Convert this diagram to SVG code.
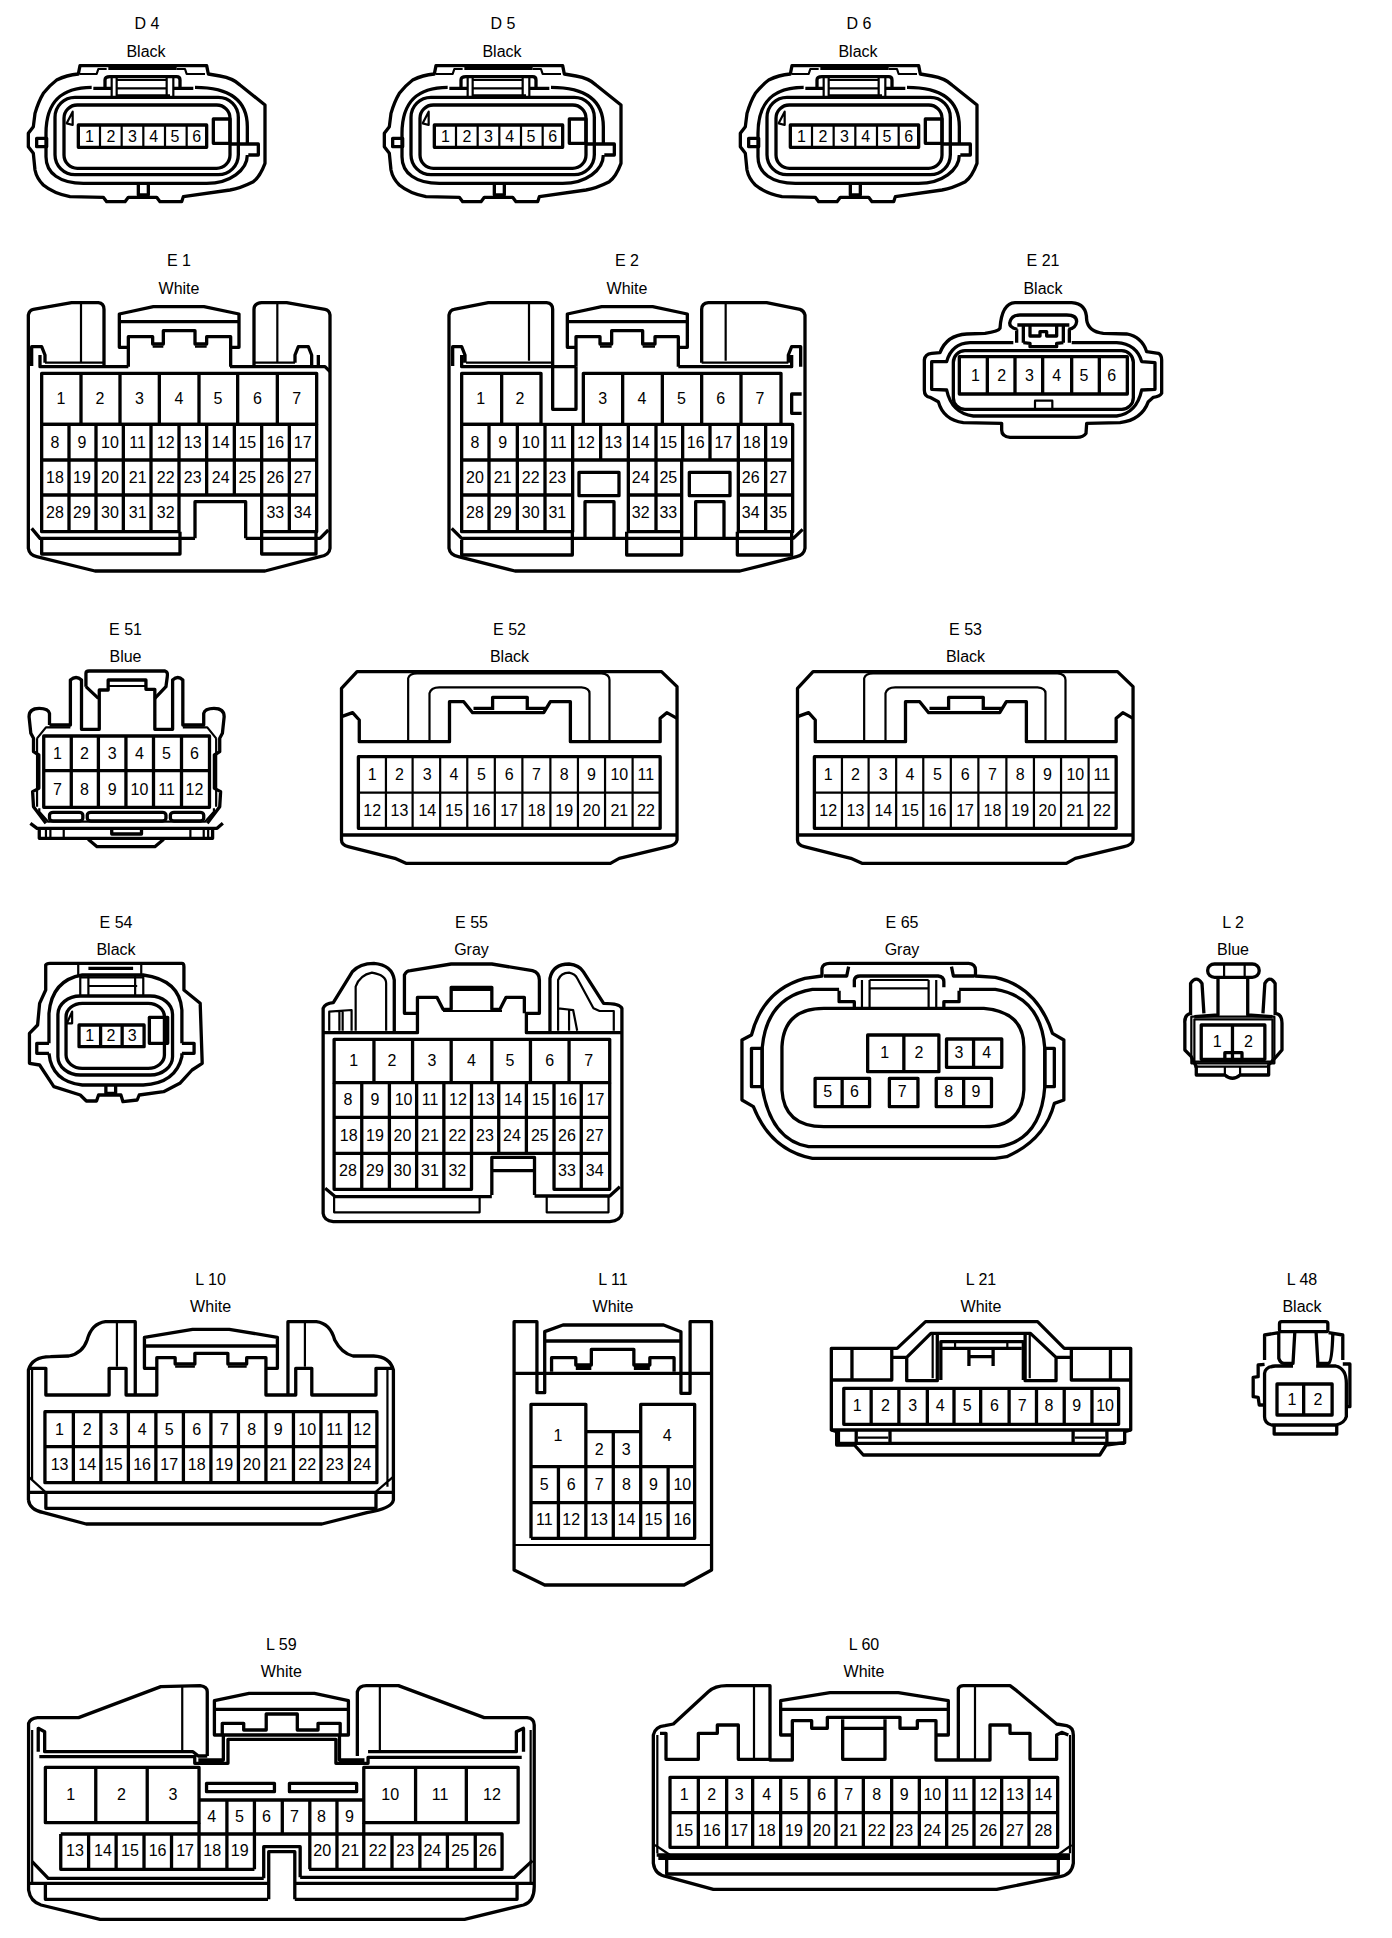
<svg xmlns="http://www.w3.org/2000/svg" width="1392" height="1938" viewBox="0 0 1392 1938">
<style>
text{font-family:"Liberation Sans",Arial,sans-serif;fill:#000;text-anchor:middle;font-size:16px}
.z3 text{font-size:48px}
path,rect{fill:none;stroke:#000;stroke-width:3.3;vector-effect:non-scaling-stroke;stroke-linejoin:round}
.i{stroke-width:2.2}
rect.bg{fill:#fff;stroke:none}
</style>
<defs>
<g id="dBody">
<path d="M235,222L240,197H620L625,222L660,228Q700,235 720,255L795,315V490Q780,530 760,545Q720,565 690,570L550,590L545,605H480L470,592H385L375,605H320L310,592L210,590Q160,580 130,555Q110,535 105,510L100,460L85,440V400L100,380L105,340Q115,305 130,280Q150,255 170,240Q200,225 235,222Z"/>
<path class="i" d="M240,222H290L295,207H320M530,207H555L560,222H615"/>
<path d="M325,205H530"/>
<path d="M275,262C190,262 138,300 138,400V470C138,520 180,550 250,550H620C690,550 742,510 742,465M742,432V380C742,300 690,262 585,262"/>
<path d="M110,415H140V440H110ZM690,432H775V465H745"/>
<rect x="165" y="292" width="550" height="232" rx="60"/>
<rect x="192" y="315" width="498" height="190" rx="40"/>
<path class="i" d="M218,335L200,370L218,375Z"/>
<path d="M315,262V240Q315,230 330,230H530Q540,230 540,240V262M280,265H335M520,265H580M350,288H510"/>
<path class="i" d="M335,232V290M350,232V290M500,232V290M520,232V290M350,240H500M350,265H500"/>
<path d="M640,357H690V430H640Z"/>
<path d="M415,550V585H445V550"/>
<rect x="235" y="375" width="385" height="67"/>
<path class="i" d="M300,375V442M365,375V442M430,375V442M495,375V442M560,375V442"/>
</g>
<g id="e52Body">
<path d="M765,235L800,185H1485L1520,230V690Q1518,705 1500,710L1390,745L1370,760H910L885,745L780,710Q765,705 765,690Z"/>
<path d="M765,320L790,308L805,330V395H1008V275H1040L1060,308H1220L1235,275H1280V395H1482V325L1497,308L1520,325"/>
<path d="M1105,300V262H1183V300M1062,295H1105M1183,295H1225"/>
<path class="i" d="M915,392V205Q918,190 935,190H1350Q1368,192 1368,210V392M963,392V250Q966,232 985,232H1305Q1323,234 1323,250V392"/>
<path d="M765,675H1520"/>
<rect x="803" y="440" width="679" height="215"/>
<path class="i" d="M803,548H1482M865,440V655M925,440V655M987,440V655M1048,440V655M1110,440V655M1172,440V655M1235,440V655M1297,440V655M1358,440V655M1420,440V655"/>
</g>
</defs>
<rect class="bg" width="1392" height="1938"/>
<g id="connectors"/>

<g id="D4">
<text x="147" y="29">D 4</text><text x="146" y="57">Black</text>
<g class="z3" transform="scale(0.33333)"><use href="#dBody"/>
<text x="268" y="425">1</text><text x="333" y="425">2</text><text x="397" y="425">3</text><text x="461" y="425">4</text><text x="525" y="425">5</text><text x="590" y="425">6</text></g>
</g>
<g id="D5">
<text x="503" y="29">D 5</text><text x="502" y="57">Black</text>
<g class="z3" transform="translate(356,0) scale(0.33333)"><use href="#dBody"/>
<text x="268" y="425">1</text><text x="333" y="425">2</text><text x="397" y="425">3</text><text x="461" y="425">4</text><text x="525" y="425">5</text><text x="590" y="425">6</text></g>
</g>
<g id="D6">
<text x="859" y="29">D 6</text><text x="858" y="57">Black</text>
<g class="z3" transform="translate(712,0) scale(0.33333)"><use href="#dBody"/>
<text x="268" y="425">1</text><text x="333" y="425">2</text><text x="397" y="425">3</text><text x="461" y="425">4</text><text x="525" y="425">5</text><text x="590" y="425">6</text></g>
</g>

<g id="E1">
<text x="179" y="266">E 1</text><text x="179" y="294">White</text>
<g class="z3" transform="translate(0,240) scale(0.33333)">
<path d="M85,895V225Q88,210 100,208L215,188H295Q312,190 312,208V375M85,895V925Q88,945 110,950L285,993H795L960,950Q988,945 990,925V225Q988,210 975,208L860,188H785Q762,190 762,208V375"/>
<path class="i" d="M243,190V365M832,190V365M135,368H312M762,368H885"/>
<path d="M95,378V320H125L135,345V368M120,345V380H385M690,380H955V345M885,368V345L895,320H925L935,345V380H975L990,395"/>
<path d="M385,322H358V222L460,200H612L717,222V322H692M358,245H717M385,380V290H458V312H490V272H585V312H620V290H692V380"/>
<path class="i" d="M458,320H490M585,320H620"/>
<rect x="125" y="400" width="825" height="153"/>
<path d="M125,553V875H537V765M785,765V875H950V553M125,553H950M125,660H950M125,765H950"/>
<path d="M243,400V553M360,400V553M478,400V553M597,400V553M713,400V553M832,400V553"/>
<path d="M207,553V875M288,553V875M370,553V875M453,553V875M537,553V765M620,553V765M703,553V765M785,553V765M868,553V875"/>
<path d="M585,895V785H737V895M95,865L120,895H585M737,895H960L985,870M125,900V942H540V875M785,875V942H948V875"/>
<text x="183" y="493">1</text><text x="300" y="493">2</text><text x="418" y="493">3</text><text x="537" y="493">4</text><text x="654" y="493">5</text><text x="772" y="493">6</text><text x="890" y="493">7</text>
<text x="165" y="624">8</text><text x="246" y="624">9</text><text x="330" y="624">10</text><text x="413" y="624">11</text><text x="497" y="624">12</text><text x="578" y="624">13</text><text x="662" y="624">14</text><text x="742" y="624">15</text><text x="826" y="624">16</text><text x="908" y="624">17</text>
<text x="165" y="729">18</text><text x="246" y="729">19</text><text x="330" y="729">20</text><text x="413" y="729">21</text><text x="497" y="729">22</text><text x="578" y="729">23</text><text x="662" y="729">24</text><text x="742" y="729">25</text><text x="826" y="729">26</text><text x="908" y="729">27</text>
<text x="165" y="835">28</text><text x="246" y="835">29</text><text x="330" y="835">30</text><text x="413" y="835">31</text><text x="497" y="835">32</text><text x="826" y="835">33</text><text x="908" y="835">34</text>
</g></g>

<g id="E2">
<text x="627" y="266">E 2</text><text x="627" y="294">White</text>
<g class="z3" transform="translate(430,240) scale(0.33333)">
<path d="M57,895V225Q60,210 72,208L175,188H350Q368,190 368,208V508H438V380M57,895V925Q60,945 85,950L255,993H930L1100,950Q1122,945 1125,925V225Q1122,212 1110,208L1010,188H835Q815,190 815,208V368"/>
<path class="i" d="M297,190V362M887,190V362M108,368H368M815,368H1075"/>
<path d="M68,378V320H95L105,345V368M95,345V380H438M745,380H1085V345M1075,368V345L1085,320H1112V380M1115,462H1085V520H1115"/>
<path d="M438,322H412V222L515,200H668L772,222V322H745M412,245H772M438,380V290H510V312H545V272H638V312H675V290H745V380"/>
<path class="i" d="M510,320H545M638,320H675"/>
<rect x="95" y="400" width="238" height="153"/>
<path d="M460,553V400H1053V553M215,400V553M578,400V553M697,400V553M815,400V553M933,400V553"/>
<path d="M95,553H1088V875H925V660M95,553V875H428V553M595,660V875H755V660M95,660H1088M95,765H428M595,765H755M925,765H1088"/>
<path d="M177,553V875M262,553V875M345,553V875M512,553V660M595,553V660M678,553V875M758,553V660M840,553V660M925,553V660M1007,553V875"/>
<rect x="447" y="697" width="120" height="70"/><rect x="778" y="697" width="122" height="70"/>
<path d="M465,895V785H552V895M797,895V785H882V895M65,865L95,895H1090L1118,868M95,900V945H427V875M590,875V945H755V875M922,875V945H1085V875"/>
<text x="152" y="493">1</text><text x="270" y="493">2</text><text x="518" y="493">3</text><text x="636" y="493">4</text><text x="754" y="493">5</text><text x="872" y="493">6</text><text x="990" y="493">7</text>
<text x="135" y="624">8</text><text x="218" y="624">9</text><text x="302" y="624">10</text><text x="385" y="624">11</text><text x="468" y="624">12</text><text x="550" y="624">13</text><text x="632" y="624">14</text><text x="715" y="624">15</text><text x="797" y="624">16</text><text x="880" y="624">17</text><text x="965" y="624">18</text><text x="1047" y="624">19</text>
<text x="135" y="729">20</text><text x="218" y="729">21</text><text x="302" y="729">22</text><text x="382" y="729">23</text><text x="632" y="729">24</text><text x="715" y="729">25</text><text x="962" y="729">26</text><text x="1045" y="729">27</text>
<text x="135" y="835">28</text><text x="218" y="835">29</text><text x="302" y="835">30</text><text x="382" y="835">31</text><text x="632" y="835">32</text><text x="715" y="835">33</text><text x="962" y="835">34</text><text x="1045" y="835">35</text>
</g></g>

<g id="E21">
<text x="1043" y="266">E 21</text><text x="1043" y="294">Black</text>
<g class="z3" transform="translate(890,240) scale(0.33333)">
<path d="M330,265Q335,190 375,188H545Q590,190 590,240Q595,275 640,280L710,282Q755,290 770,335L805,340Q815,345 815,360V460Q810,470 790,472L775,485Q755,540 690,548L590,550L588,580Q580,592 560,592H360Q335,590 335,570V550L220,548Q160,540 145,485L120,472Q103,470 103,450V360Q105,342 125,340L150,338Q170,285 230,282L285,280Q325,275 330,265Z"/>
<path d="M370,308H240Q185,310 170,365H125V448L170,450Q185,520 250,528H680Q740,520 755,450L795,448V368L755,365Q740,312 680,308H545"/>
<rect x="190" y="332" width="540" height="176" rx="35"/>
<rect x="208" y="350" width="504" height="112"/>
<path d="M292,350V462M375,350V462M458,350V462M545,350V462M628,350V462"/>
<path class="i" d="M435,505V482H487V505"/>
<path d="M382,268Q355,262 360,245Q365,225 390,225H530Q560,225 560,245Q558,265 535,268M380,268V308M400,258V308M520,258V308M538,268V308M400,308L420,310V320H500V310L520,308M420,258V288H450V275H470V288H500V258M382,255H538"/>
<text x="256" y="422">1</text><text x="335" y="422">2</text><text x="418" y="422">3</text><text x="500" y="422">4</text><text x="582" y="422">5</text><text x="665" y="422">6</text>
</g></g>

<g id="E51" transform="translate(1.5,0)">
<text x="124" y="635">E 51</text><text x="124" y="662">Blue</text>
<g transform="translate(0,610) scale(0.44444,0.33333)">
<path d="M190,230V190Q190,183 197,183H368Q375,186 373,200L370,230L345,265M190,230L218,265"/>
<path d="M108,345V310Q105,295 85,295Q62,295 62,320L66,370L72,385V425L84,435V535L70,545L72,590L100,640M108,345H155V210Q168,195 180,210V358H220V240H240V210H325V238H345V358H385V210Q397,195 408,210V345H455V310Q458,295 478,295Q501,295 501,320L497,370L491,385V425L479,435V535L493,545L491,590L463,640"/>
<path class="i" d="M240,228H325M80,385L100,352H155M408,352H463L483,385M80,385V590M483,385V590M85,595V605L105,635H458L478,605V595"/>
<rect x="95" y="378" width="373" height="214"/>
<path d="M157,378V592M218,378V592M280,378V592M342,378V592M405,378V592M95,482H468"/>
<rect x="108" y="607" width="75" height="26" rx="8"/><rect x="193" y="607" width="177" height="26" rx="8"/><rect x="380" y="607" width="75" height="26" rx="8"/>
<path d="M65,640L80,655H485L498,640M85,655V685H475V655M248,660V672H315V660M195,688L215,710H345L365,688"/>
<path class="i" d="M100,655V685M110,655V685M140,655V685M425,655V685M455,655V685M465,655V685"/>
</g>
<text x="56" y="759">1</text><text x="83" y="759">2</text><text x="110.7" y="759">3</text><text x="138" y="759">4</text><text x="165" y="759">5</text><text x="193" y="759">6</text>
<text x="56" y="795">7</text><text x="83" y="795">8</text><text x="110.7" y="795">9</text><text x="138" y="795">10</text><text x="165" y="795">11</text><text x="193" y="795">12</text>
</g>

<g id="E52" transform="translate(1.5,0)">
<text x="508" y="635">E 52</text><text x="508" y="662">Black</text>
<g transform="translate(0,610) scale(0.44444,0.33333)"><use href="#e52Body"/></g>
<text x="370.7" y="780">1</text><text x="398" y="780">2</text><text x="425.8" y="780">3</text><text x="452.4" y="780">4</text><text x="480" y="780">5</text><text x="507.6" y="780">6</text><text x="535" y="780">7</text><text x="562.7" y="780">8</text><text x="590" y="780">9</text><text x="617.8" y="780">10</text><text x="644.4" y="780">11</text>
<text x="370.7" y="816">12</text><text x="398" y="816">13</text><text x="425.8" y="816">14</text><text x="452.4" y="816">15</text><text x="480" y="816">16</text><text x="507.6" y="816">17</text><text x="535" y="816">18</text><text x="562.7" y="816">19</text><text x="590" y="816">20</text><text x="617.8" y="816">21</text><text x="644.4" y="816">22</text>
</g>

<g id="E53" transform="translate(1.5,0)">
<text x="964" y="635">E 53</text><text x="964" y="662">Black</text>
<g transform="translate(456,610) scale(0.44444,0.33333)"><use href="#e52Body"/></g>
<text x="826.7" y="780">1</text><text x="854" y="780">2</text><text x="881.8" y="780">3</text><text x="908.4" y="780">4</text><text x="936" y="780">5</text><text x="963.6" y="780">6</text><text x="991" y="780">7</text><text x="1018.7" y="780">8</text><text x="1046" y="780">9</text><text x="1073.8" y="780">10</text><text x="1100.4" y="780">11</text>
<text x="826.7" y="816">12</text><text x="854" y="816">13</text><text x="881.8" y="816">14</text><text x="908.4" y="816">15</text><text x="936" y="816">16</text><text x="963.6" y="816">17</text><text x="991" y="816">18</text><text x="1018.7" y="816">19</text><text x="1046" y="816">20</text><text x="1073.8" y="816">21</text><text x="1100.4" y="816">22</text>
</g>

<g id="E54" transform="translate(1,0)">
<text x="115" y="928">E 54</text><text x="115" y="955">Black</text>
<g transform="translate(0,900) scale(0.40650,0.33333)">
<path d="M110,270V195Q112,190 120,190H445Q450,190 450,200V270L490,310L495,490L470,510L440,550L400,575L340,585L335,600L300,605L295,585H240L235,603H210L195,585L130,560L95,495L70,490V400L90,375L95,310Z"/>
<path d="M118,430V340Q125,240 200,225H350Q440,240 445,330V430M445,460V470Q430,550 350,555H200Q125,545 118,460M118,430H88V460H118M445,430H475V460H445"/>
<path class="i" d="M190,195V225M345,195V225"/><path d="M215,205H325"/>
<rect x="140" y="288" width="282" height="237" rx="55"/><rect x="160" y="310" width="242" height="195" rx="40"/>
<path class="i" d="M195,228V290M215,228V290M330,228V290M350,228V290M195,232H350M215,258H335M175,335L162,370H175Z"/>
<rect x="192" y="375" width="160" height="65"/>
<path d="M245,375V440M298,375V440M365,352H410V430H365ZM258,555V580H282V555"/>
</g>
<text x="88.6" y="1041">1</text><text x="110" y="1041">2</text><text x="131.3" y="1041">3</text>
</g>

<g id="E55" transform="translate(2,0)">
<text x="469.5" y="928">E 55</text><text x="469.5" y="955">Gray</text>
<g transform="translate(0,900) scale(0.40650,0.33333)">
<path d="M790,398V325Q795,310 815,308L862,215Q880,190 915,190Q960,195 965,240V398M1348,398V235Q1355,192 1395,192Q1420,195 1430,215L1480,310Q1520,310 1525,325V940Q1522,962 1495,965H815Q792,962 790,940V398"/>
<path class="i" d="M870,392V260Q880,225 910,218Q945,225 945,250V392M1368,392V240Q1375,218 1395,218Q1410,222 1415,235L1455,325L1470,333H1505V392M805,392V335L860,330V392M830,335V392M838,335V392M1368,325L1405,330L1415,392M1395,330V392"/>
<path d="M790,398H1022V340H990V225Q995,212 1005,212L1105,192H1205L1305,212Q1322,218 1322,240V340H1290V398H1525M1022,340V292H1070L1085,328H1105V262H1205V328H1225L1240,292H1285V340"/>
<path class="i" d="M1085,333H1230M1105,270H1205"/>
<rect x="817" y="418" width="678" height="130"/>
<path d="M915,418V548M1010,418V548M1105,418V548M1205,418V548M1300,418V548M1395,418V548"/>
<path d="M817,548V868H1155V760M1358,760V868H1495V548M817,652H1495M817,760H1495"/>
<path d="M885,548V868M953,548V868M1020,548V868M1087,548V868M1155,548V760M1222,548V760M1290,548V760M1358,548V760M1425,548V868"/>
<path d="M1205,885V772H1310V885M1205,812H1310M795,865L820,890H1205M1310,888H1495L1520,860"/>
<path class="i" d="M817,890V937H1175V890M1340,890V937H1492V890"/>
</g>
<text x="351.6" y="1066.4">1</text><text x="390" y="1066.4">2</text><text x="430" y="1066.4">3</text><text x="469.5" y="1066.4">4</text><text x="508" y="1066.4">5</text><text x="547.6" y="1066.4">6</text><text x="586.6" y="1066.4">7</text>
<text x="346" y="1105">8</text><text x="373" y="1105">9</text><text x="401.6" y="1105">10</text><text x="428" y="1105">11</text><text x="456" y="1105">12</text><text x="483.7" y="1105">13</text><text x="511" y="1105">14</text><text x="538.6" y="1105">15</text><text x="565.9" y="1105">16</text><text x="593.5" y="1105">17</text>
<text x="346.7" y="1140.7">18</text><text x="373" y="1140.7">19</text><text x="400.4" y="1140.7">20</text><text x="428" y="1140.7">21</text><text x="455.3" y="1140.7">22</text><text x="483" y="1140.7">23</text><text x="510" y="1140.7">24</text><text x="537.8" y="1140.7">25</text><text x="565" y="1140.7">26</text><text x="592.7" y="1140.7">27</text>
<text x="346" y="1176.4">28</text><text x="373" y="1176.4">29</text><text x="400.4" y="1176.4">30</text><text x="428" y="1176.4">31</text><text x="455.3" y="1176.4">32</text><text x="565" y="1176.4">33</text><text x="592.7" y="1176.4">34</text>
</g>

<g id="E65">
<text x="902" y="928">E 65</text><text x="902" y="955">Gray</text>
<g transform="translate(721,900) scale(0.38095,0.33333)">
<path d="M265,228V205Q268,190 285,190H650Q668,192 668,210V228L720,232Q830,260 870,400L900,420V600L875,610Q850,720 750,770L720,775H240Q130,750 85,620L55,600V420L80,405Q110,270 220,235Z"/>
<path d="M80,445H108V560H80ZM875,445H850V560H875Z"/>
<path d="M310,268H240Q120,290 108,445V560Q130,720 230,740H730Q840,720 850,560V445Q840,290 720,268H625"/>
<path d="M335,200L330,228H270M605,200L610,228H665M350,262V240Q352,228 365,228H570Q585,230 585,245V262M310,272V305H350V322M625,272V305H585V322"/>
<path class="i" d="M370,240V322M390,240V322M545,240V322M565,240V322M390,240H545M390,265H545"/>
<path d="M160,440Q165,325 270,325H690Q795,335 795,440V570Q790,680 690,680H270Q165,680 160,570Z"/>
<rect x="385" y="405" width="187" height="110"/><rect x="592" y="417" width="145" height="85"/><rect x="247" y="535" width="143" height="85"/><rect x="442" y="535" width="75" height="85"/><rect x="565" y="535" width="145" height="85"/>
<path d="M480,405V515M663,417V502M318,535V620M637,535V620"/>
</g>
<text x="884.6" y="1058.4">1</text><text x="918.9" y="1058.4">2</text><text x="958.9" y="1058.4">3</text><text x="986.7" y="1058.4">4</text>
<text x="827.8" y="1097.4">5</text><text x="854.5" y="1097.4">6</text><text x="902.1" y="1097.4">7</text><text x="948.6" y="1097.4">8</text><text x="976" y="1097.4">9</text>
</g>

<g id="L2" transform="translate(2,0)">
<text x="1231" y="928">L 2</text><text x="1231" y="955">Blue</text>
<g transform="translate(720,900) scale(0.38095,0.33333)">
<rect x="1275" y="192" width="135" height="40" rx="18"/>
<path class="i" d="M1318,195V230M1372,195V230M1240,500H1435"/>
<path d="M1302,232V345L1240,350M1380,232V345L1445,350M1230,345V250Q1245,225 1260,250L1265,340M1420,340L1425,250Q1438,225 1452,250V345"/>
<path d="M1230,340Q1213,345 1215,370V450L1232,470L1245,500V525H1320Q1340,545 1360,525H1435V495L1455,470L1470,450V370Q1470,340 1450,340"/>
<rect class="i" x="1232" y="350" width="218" height="140"/><rect class="i" x="1240" y="358" width="205" height="127"/>
<rect x="1258" y="375" width="167" height="103"/>
<path d="M1340,375V478"/>
<rect x="1320" y="458" width="45" height="24"/>
<path class="i" d="M1320,500V525M1360,500V525"/>
</g>
<text x="1215.2" y="1047.4">1</text><text x="1246.5" y="1047.4">2</text>
</g>

<g id="L10" transform="scale(1.003,1)">
<text x="210" y="1285">L 10</text><text x="210" y="1312">White</text>
<g transform="translate(0,1260) scale(0.45714,0.33333)">
<path d="M62,720V330Q70,290 110,290L150,288Q180,280 190,240Q200,190 230,185H295V405M62,720Q65,750 95,758L188,792H702L800,758Q855,745 858,720V330Q850,290 815,288H770Q745,280 730,240Q720,190 690,185H628V405"/>
<path class="i" d="M255,188V320M665,188V320M70,330V660M845,330V680M62,650L98,695M858,650L820,695"/>
<path d="M62,325H100V405H238V325H275V405H342V293H382V312H425V280H497V312H538V293H580V405H645V325H680V405H820V325H858"/>
<path d="M342,325H315V232L420,208H500L605,232V325H580M318,258H603"/>
<path class="i" d="M382,320H425M497,320H538"/>
<rect x="98" y="455" width="724" height="213"/>
<path d="M98,560H822M160,455V668M220,455V668M280,455V668M340,455V668M400,455V668M460,455V668M520,455V668M580,455V668M640,455V668M700,455V668M762,455V668"/>
<path d="M62,697H858M100,700V745H820V700"/>
</g>
<text x="59.4" y="1434.7">1</text><text x="86.9" y="1434.7">2</text><text x="113.4" y="1434.7">3</text><text x="141.7" y="1434.7">4</text><text x="168.7" y="1434.7">5</text><text x="196.1" y="1434.7">6</text><text x="223.5" y="1434.7">7</text><text x="251" y="1434.7">8</text><text x="277.5" y="1434.7">9</text><text x="306.3" y="1434.7">10</text><text x="333.7" y="1434.7">11</text><text x="361.1" y="1434.7">12</text>
<text x="59.4" y="1469.7">13</text><text x="86.9" y="1469.7">14</text><text x="113.4" y="1469.7">15</text><text x="141.7" y="1469.7">16</text><text x="168.7" y="1469.7">17</text><text x="196.1" y="1469.7">18</text><text x="223.5" y="1469.7">19</text><text x="251" y="1469.7">20</text><text x="277.5" y="1469.7">21</text><text x="306.3" y="1469.7">22</text><text x="333.7" y="1469.7">23</text><text x="361.1" y="1469.7">24</text>
</g>

<g id="L11" transform="translate(3,0)">
<text x="610" y="1285">L 11</text><text x="610" y="1312">White</text>
<g transform="translate(0,1260) scale(0.45714,0.33333)">
<path d="M1118,185V930L1185,975H1490L1550,930V185H1503V400H1483V215L1445,195H1225L1185,215V398H1168V185H1118ZM1118,340H1550"/>
<path d="M1187,243H1483M1200,335V293H1253V315H1287V268H1380V315H1415V293H1468V335M1253,325H1287M1380,325H1415"/>
<path d="M1155,835V433H1275V620M1275,515H1395M1395,620V433H1513V835H1155M1155,620H1513M1155,728H1513"/>
<path d="M1335,515V835M1215,620V835M1275,620V835M1395,620V835M1455,620V835"/>
<path class="i" d="M1118,855H1550"/>
</g>
<text x="555" y="1440.7">1</text><text x="664.2" y="1440.7">4</text><text x="596.1" y="1454.7">2</text><text x="623.1" y="1454.7">3</text>
<text x="541.3" y="1489.7">5</text><text x="568.2" y="1489.7">6</text><text x="596.1" y="1489.7">7</text><text x="623.5" y="1489.7">8</text><text x="650.5" y="1489.7">9</text><text x="679.3" y="1489.7">10</text>
<text x="541.3" y="1525">11</text><text x="568.2" y="1525">12</text><text x="596.1" y="1525">13</text><text x="623.5" y="1525">14</text><text x="650.5" y="1525">15</text><text x="679.3" y="1525">16</text>
</g>

<g id="L21">
<text x="981" y="1285">L 21</text><text x="981" y="1312">White</text>
<g transform="translate(810,1260) scale(0.35556,0.33333)">
<path d="M60,265H245L325,185H640L715,265H902V510L885,515V548L833,555L815,585H150L125,555H75V515L60,510Z"/>
<path d="M118,265V360M845,268V360M60,360H230V270M735,270V360H902"/>
<path d="M232,292H272L340,220H620L692,292H735M272,292V362H358V222M692,292V362H605V222"/>
<path class="i" d="M345,222V355M618,222V355"/>
<path d="M368,360V245H600V360M370,265H595"/>
<path class="i" d="M408,245V265M555,245V265"/>
<path d="M447,270V318M515,270V318M447,290H515"/>
<rect x="95" y="385" width="773" height="108"/>
<path d="M172,385V493M250,385V493M330,385V493M405,385V493M480,385V493M560,385V493M637,385V493M715,385V493M793,385V493"/>
<path d="M60,510H902M80,515V550H885M130,515V548M225,515V548M740,515V548M835,515V548"/>
<path class="i" d="M135,533H220M745,533H830"/>
</g>
<text x="857.3" y="1411.4">1</text><text x="885.4" y="1411.4">2</text><text x="912.8" y="1411.4">3</text><text x="940.1" y="1411.4">4</text><text x="967.2" y="1411.4">5</text><text x="994.5" y="1411.4">6</text><text x="1022.3" y="1411.4">7</text><text x="1048.9" y="1411.4">8</text><text x="1076.7" y="1411.4">9</text><text x="1105.1" y="1411.4">10</text>
</g>

<g id="L48" transform="translate(3,0)">
<text x="1299" y="1285">L 48</text><text x="1299" y="1312">Black</text>
<g transform="translate(810,1260) scale(0.35556,0.33333)">
<rect x="1312" y="185" width="136" height="30" rx="6"/>
<path d="M1270,300V225L1310,218M1490,300V225L1450,218M1310,215V295Q1315,310 1325,310H1350L1355,218M1415,218L1420,310H1450Q1460,305 1462,218"/>
<path d="M1415,318H1470Q1500,325 1500,370V470Q1495,490 1470,495H1290Q1270,490 1270,470V340Q1272,320 1300,318H1350"/>
<path d="M1270,313L1252,315V350L1238,352V410L1252,412L1255,435H1270M1490,312H1510V440H1500M1297,495V522H1473V495"/>
<rect x="1305" y="372" width="155" height="93"/>
<path d="M1380,372V465"/>
</g>
<text x="1288.9" y="1405.2">1</text><text x="1314.9" y="1405.2">2</text>
</g>

<g id="L59" transform="scale(1.005,1)">
<text x="280" y="1650">L 59</text><text x="280" y="1677">White</text>
<g transform="translate(0,1620) scale(0.35556,0.33333)">
<path d="M80,790V310Q85,295 105,293H220L450,200L560,197Q580,200 580,215V408M1000,408V215Q1005,197 1025,197H1115L1355,293H1475Q1495,295 1495,315V800M80,790V810Q85,845 115,855L280,898H1300L1465,855Q1495,845 1495,800"/>
<path class="i" d="M510,197V392M1063,197V392M90,790V330M1485,790V330"/>
<path d="M107,395V325L125,335V395H540L555,408H580M110,410H545V430H638V358H940V430H1030V412H1460M555,420H625V345M950,345V420H1020M1030,395H1445V335L1465,325V395"/>
<path d="M600,345V242L697,220H880L975,242V345ZM600,268H975M622,345V310H682V330H745V282H832V330H890V310H952V345"/>
<rect x="127" y="442" width="430" height="166"/><rect x="1018" y="442" width="432" height="166"/>
<path d="M268,442V608M412,442V608M1163,442V608M1305,442V608"/>
<rect x="578" y="490" width="190" height="25"/><rect x="810" y="490" width="188" height="25"/>
<path d="M557,540H1018M557,608V642M1018,608V642M635,540V748M712,540V748M790,540V642M867,540V748M943,540V748"/>
<path d="M170,642H1405V748H865M170,642V748H712M248,642V748M325,642V748M403,642V748M480,642V748M557,642V748M1018,642V748M1097,642V748M1175,642V748M1252,642V748M1330,642V748"/>
<path d="M738,775V680H840V772M752,838V695H825V838"/>
<path d="M90,725L135,775H738M840,772H1440L1490,722M80,790H752M825,790H1495M127,795V838H750M825,838H1447V795"/>
</g>
<text x="70.4" y="1799.7">1</text><text x="120.9" y="1799.7">2</text><text x="172.1" y="1799.7">3</text><text x="388.3" y="1799.7">10</text><text x="438" y="1799.7">11</text><text x="489.6" y="1799.7">12</text>
<text x="210.8" y="1822.4">4</text><text x="238.2" y="1822.4">5</text><text x="265.2" y="1822.4">6</text><text x="293" y="1822.4">7</text><text x="320" y="1822.4">8</text><text x="347.7" y="1822.4">9</text>
<text x="74.7" y="1856.4">13</text><text x="102.4" y="1856.4">14</text><text x="129.4" y="1856.4">15</text><text x="156.8" y="1856.4">16</text><text x="184.2" y="1856.4">17</text><text x="211.2" y="1856.4">18</text><text x="238.6" y="1856.4">19</text><text x="320.7" y="1856.4">20</text><text x="348.4" y="1856.4">21</text><text x="375.8" y="1856.4">22</text><text x="403.2" y="1856.4">23</text><text x="430.2" y="1856.4">24</text><text x="458" y="1856.4">25</text><text x="485.3" y="1856.4">26</text>
</g>

<g id="L60">
<text x="864" y="1650">L 60</text><text x="864" y="1677">White</text>
<g transform="translate(630,1620) scale(0.33333)">
<path d="M420,420V197H290Q255,197 235,215L130,312L105,317Q75,320 70,345V730Q75,765 110,770L250,808H1100L1290,770Q1325,765 1330,730V345Q1330,322 1310,317L1280,312L1160,212L1140,197H1000Q990,197 985,205V420"/>
<path class="i" d="M372,197V418M1035,197V418M82,345V700M1320,345V700"/>
<path d="M90,340H108V418H205V340H262V315H325V418H420V420H487V302H545V325H592V292H810V325H862V302H918V420H1080V315H1140V340H1200V418H1280V345L1295,337L1315,345"/>
<path d="M487,345H452V242L600,218H805L955,242V345H918M455,268H950"/>
<path d="M638,298V418H765V298M638,325H765M545,325H592M810,325H862"/>
<rect x="120" y="472" width="1163" height="210"/>
<path d="M120,578H1283M205,472V682M290,472V682M368,472V682M452,472V682M537,472V682M618,472V682M700,472V682M785,472V682M868,472V682M950,472V682M1032,472V682M1115,472V682M1197,472V682"/>
<path class="i" d="M75,675L120,705M1283,705L1325,675"/>
<path d="M80,705H1320M85,715H1320M110,715V762H1285V715"/>
</g>
<text x="684.3" y="1800">1</text><text x="711.7" y="1800">2</text><text x="739.3" y="1800">3</text><text x="766.7" y="1800">4</text><text x="794" y="1800">5</text><text x="821.7" y="1800">6</text><text x="848.7" y="1800">7</text><text x="876.7" y="1800">8</text><text x="904.3" y="1800">9</text><text x="932.3" y="1800">10</text><text x="960" y="1800">11</text><text x="988.3" y="1800">12</text><text x="1015" y="1800">13</text><text x="1043.3" y="1800">14</text>
<text x="684.3" y="1835.7">15</text><text x="711.7" y="1835.7">16</text><text x="739.3" y="1835.7">17</text><text x="766.7" y="1835.7">18</text><text x="794" y="1835.7">19</text><text x="821.7" y="1835.7">20</text><text x="848.7" y="1835.7">21</text><text x="876.7" y="1835.7">22</text><text x="904.3" y="1835.7">23</text><text x="932.3" y="1835.7">24</text><text x="960" y="1835.7">25</text><text x="988.3" y="1835.7">26</text><text x="1015" y="1835.7">27</text><text x="1043.3" y="1835.7">28</text>
</g>
</svg>
